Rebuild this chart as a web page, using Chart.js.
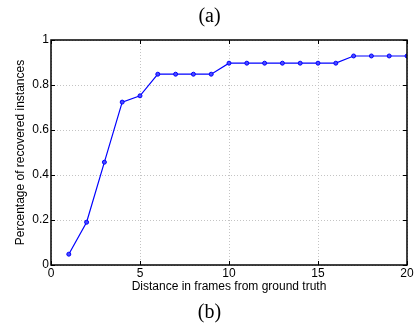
<!DOCTYPE html>
<html>
<head>
<meta charset="utf-8">
<script src="https://cdn.jsdelivr.net/npm/chart.js@4/dist/chart.umd.min.js"></script>
<style>
html,body{margin:0;padding:0;background:#fff;}
#wrap{width:418px;height:329px;}
</style>
</head>
<body>
<div id="wrap"><canvas id="c" width="418" height="329"></canvas></div>
<script>
const distances = [1,2,3,4,5,6,7,8,9,10,11,12,13,14,15,16,17,18,19,20];
const recovered = [0.048,0.19,0.457,0.724,0.752,0.848,0.848,0.848,0.848,0.897,0.897,0.897,0.897,0.897,0.897,0.897,0.929,0.929,0.929,0.929];
const xTicks = [0,5,10,15,20];
const yTicks = [0,0.2,0.4,0.6,0.8,1];
const topTitle = '(a)';
const bottomTitle = '(b)';
const xTitle = 'Distance in frames from ground truth';
const yTitle = 'Percentage of recovered instances';

const boxPlugin = {
  id: 'box',
  afterDraw(chart) {
    const {ctx, chartArea: a, scales: {x, y}} = chart;
    ctx.save();
    ctx.strokeStyle = '#000';
    ctx.lineWidth = 1;
    ctx.beginPath();
    const L = 4;
    xTicks.forEach(v => {
      const px = Math.round(x.getPixelForValue(v)) + 0.5;
      ctx.moveTo(px, a.bottom); ctx.lineTo(px, a.bottom - L);
      ctx.moveTo(px, a.top); ctx.lineTo(px, a.top + L);
    });
    yTicks.forEach(v => {
      const py = Math.round(y.getPixelForValue(v)) + 0.5;
      ctx.moveTo(a.left, py); ctx.lineTo(a.left + L, py);
      ctx.moveTo(a.right, py); ctx.lineTo(a.right - L, py);
    });
    ctx.stroke();
    ctx.lineWidth = 1.5;
    ctx.strokeRect(a.left, a.top, a.right - a.left, a.bottom - a.top);
    ctx.restore();
  }
};

const sans = '"Liberation Sans", Arial, sans-serif';
const serif = '"Liberation Serif", "DejaVu Serif", serif';

new Chart(document.getElementById('c'), {
  type: 'line',
  data: {
    datasets: [{
      data: distances.map((d, i) => ({x: d, y: recovered[i]})),
      borderColor: '#0000ff',
      borderWidth: 1.2,
      pointRadius: 2,
      pointBorderWidth: 1,
      pointBackgroundColor: '#4a4aff',
      pointBorderColor: '#0000ff',
      tension: 0
    }]
  },
  options: {
    responsive: false,
    animation: false,
    layout: {padding: {left: 12, right: 11, top: 0, bottom: 0}},
    plugins: {
      legend: {display: false},
      tooltip: {enabled: false},
      title: {
        display: true, text: topTitle, color: '#000',
        font: {family: serif, size: 20, weight: 'normal'},
        padding: {top: 5, bottom: 11}
      },
      subtitle: {
        display: true, text: bottomTitle, position: 'bottom', color: '#000',
        font: {family: serif, size: 20, weight: 'normal'},
        padding: {top: 2, bottom: 4}
      }
    },
    scales: {
      x: {
        type: 'linear', min: 0, max: 20,
        afterBuildTicks: s => { s.ticks = xTicks.map(v => ({value: v})); },
        afterFit: s => { s.height = 34; },
        ticks: {color: '#000', padding: 1, maxRotation: 0, font: {family: sans, size: 12}},
        grid: {color: '#c4c4c4', drawTicks: false, lineWidth: 1},
        border: {display: false, dash: [1, 2]},
        title: {display: true, text: xTitle, color: '#000', padding: {top: 0, bottom: 5},
          font: {family: sans, size: 12}}
      },
      y: {
        type: 'linear', min: 0, max: 1,
        afterBuildTicks: s => { s.ticks = yTicks.map(v => ({value: v})); },
        afterFit: s => { s.width = 39; },
        ticks: {color: '#000', padding: 2, callback: v => String(v),
          font: {family: sans, size: 12}},
        grid: {color: '#c4c4c4', drawTicks: false, lineWidth: 1},
        border: {display: false, dash: [1, 2]},
        title: {display: true, text: yTitle, color: '#000', padding: {top: 1, bottom: 4},
          font: {family: sans, size: 12}}
      }
    }
  },
  plugins: [boxPlugin]
});
</script>
</body>
</html>
